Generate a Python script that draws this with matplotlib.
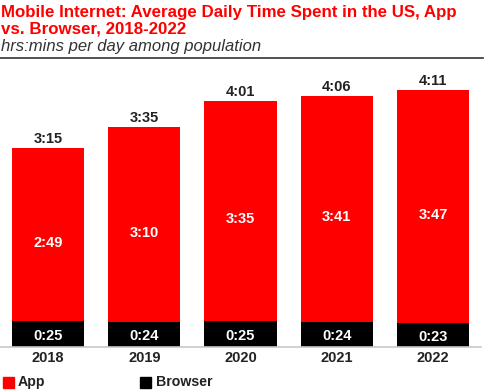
import matplotlib
matplotlib.use("Agg")
import matplotlib.pyplot as plt
from matplotlib.patches import Rectangle

years = ["2018", "2019", "2020", "2021", "2022"]
app_min = [169, 190, 215, 221, 227]
browser_min = [25, 24, 25, 24, 23]
app_labels = ["2:49", "3:10", "3:35", "3:41", "3:47"]
browser_labels = ["0:25", "0:24", "0:25", "0:24", "0:23"]
total_labels = ["3:15", "3:35", "4:01", "4:06", "4:11"]

RED = "#ff0000"
plt.rcParams['font.family'] = ['Liberation Sans', 'DejaVu Sans']

W, H = 489, 391
fig = plt.figure(figsize=(W / 100, H / 100), dpi=100)

base_px = 347
ppm = 1.026
ymax = 260
ax = fig.add_axes([0 / W, (H - base_px) / H, 481 / W, ymax * ppm / H])
x = list(range(len(years)))
ax.bar(x, browser_min, width=0.75, color="black")
ax.bar(x, app_min, width=0.75, bottom=browser_min, color=RED)
ax.set_xlim(-0.5, 4.5)
ax.set_ylim(0, ymax)
for s in ax.spines.values():
    s.set_visible(False)
ax.axhline(0, color="#c8c8c8", lw=1.2, clip_on=False)
ax.set_yticks([])
ax.set_xticks(x)
ax.set_xticklabels(years, fontsize=10.5, fontweight="bold", color="#222222")
ax.tick_params(axis="x", length=0, pad=3)

for i in x:
    b = browser_min[i]
    a = app_min[i]
    ax.text(i, b / 2 - 1.5, browser_labels[i], ha="center", va="center",
            color="white", fontsize=10.5, fontweight="bold")
    ax.text(i, b + a / 2 - 8, app_labels[i], ha="center", va="center",
            color="white", fontsize=10.5, fontweight="bold")
    ax.text(i, b + a + 2, total_labels[i], ha="center", va="bottom",
            color="#222222", fontsize=10.5, fontweight="bold")

fig.text(1 / W, 1 - 17 / H, "Mobile Internet: Average Daily Time Spent in the US, App",
         ha="left", va="baseline", color=RED, fontsize=12.2, fontweight="bold")
fig.text(1 / W, 1 - 33 / H, "vs. Browser, 2018-2022",
         ha="left", va="baseline", color=RED, fontsize=12.2, fontweight="bold")
fig.text(1 / W, 1 - 47 / H, "hrs:mins per day among population", ha="left", va="center",
         color="#333333", fontsize=12, style="italic")
fig.add_artist(plt.Line2D([0, 483 / W], [1 - 58 / H, 1 - 58 / H], color="#333333", lw=1.2))

# legend
fig.add_artist(Rectangle((3 / W, 1 - 388 / H), 11 / W, 11 / H, color=RED, transform=fig.transFigure))
fig.text(18 / W, 1 - 382 / H, "App", ha="left", va="center", fontsize=10.2, fontweight="bold", color="#222222")
fig.add_artist(Rectangle((140 / W, 1 - 388 / H), 11 / W, 11 / H, color="black", transform=fig.transFigure))
fig.text(156 / W, 1 - 382 / H, "Browser", ha="left", va="center", fontsize=10.2, fontweight="bold", color="#222222")

fig.savefig("out.png", dpi=100)
